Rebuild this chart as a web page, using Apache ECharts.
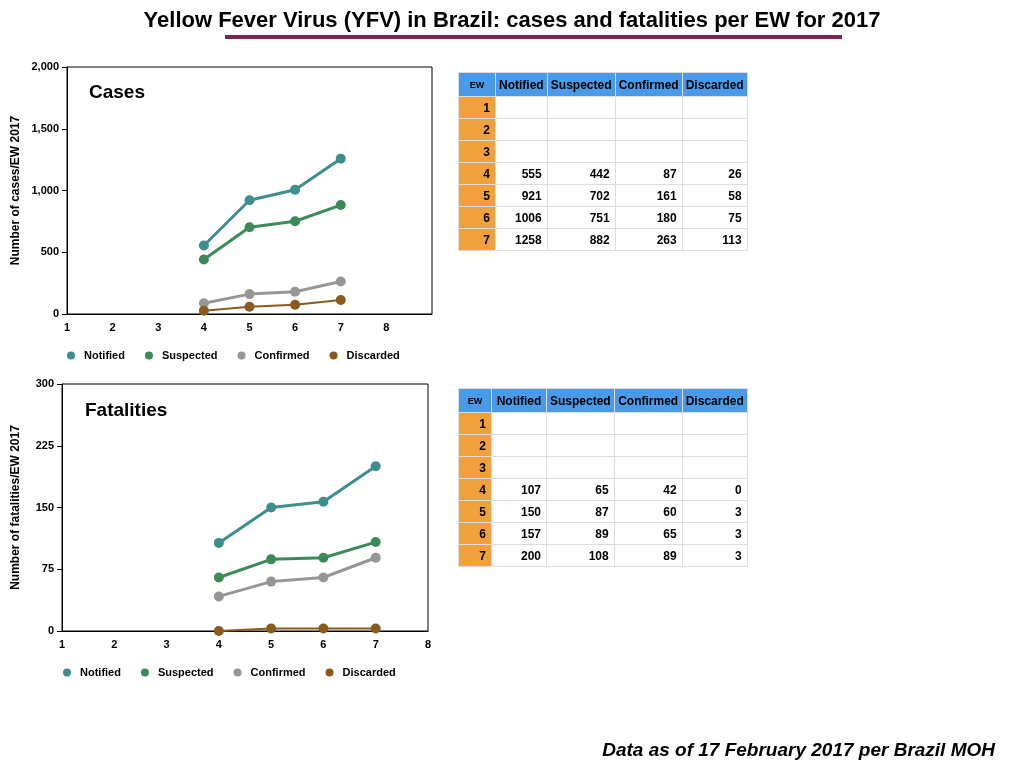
<!DOCTYPE html>
<html><head><meta charset="utf-8">
<script src="https://cdn.jsdelivr.net/npm/echarts@6/dist/echarts.min.js"></script>
<style>
body{margin:0;width:1024px;height:768px;font-family:Helvetica,Arial,"Liberation Sans",sans-serif;background:#fff;position:relative;overflow:hidden}
#chart{position:absolute;left:0;top:0;width:1024px;height:768px}
table{position:absolute;border-collapse:collapse;font-size:12px;font-weight:bold;font-family:"Liberation Sans",Arial,sans-serif}
td,th{border:1px solid #ddd;padding:0 5px;text-align:right;height:21px}
th{background:#4a9ae8;color:#000;font-weight:bold;height:23px;text-align:center;padding:0 3px}
th.ew{font-size:9px}
td.ew{background:#f0a03c}
</style></head><body>
<div id="chart"></div>
<table id="t1" style="left:458px;top:72px"></table>
<table id="t2" style="left:458px;top:388px"></table>
<script>
var ew = [1, 2, 3, 4, 5, 6, 7];
var seriesNames = ['Notified', 'Suspected', 'Confirmed', 'Discarded'];
var colors = ['#3e8e8e', '#3b8a57', '#969696', '#8b5a1f'];
var casesNotified = [null, null, null, 555, 921, 1006, 1258];
var casesSuspected = [null, null, null, 442, 702, 751, 882];
var casesConfirmed = [null, null, null, 87, 161, 180, 263];
var casesDiscarded = [null, null, null, 26, 58, 75, 113];
var fatNotified = [null, null, null, 107, 150, 157, 200];
var fatSuspected = [null, null, null, 65, 87, 89, 108];
var fatConfirmed = [null, null, null, 42, 60, 65, 89];
var fatDiscarded = [null, null, null, 0, 3, 3, 3];

var cases = [casesNotified, casesSuspected, casesConfirmed, casesDiscarded];
var fats = [fatNotified, fatSuspected, fatConfirmed, fatDiscarded];

function fillTable(id, data, widths) {
  var html = '<tr><th class="ew" style="width:' + widths[0] + 'px">EW</th>';
  seriesNames.forEach(function (n, i) { html += '<th style="width:' + widths[i + 1] + 'px">' + n + '</th>'; });
  html += '</tr>';
  ew.forEach(function (e, r) {
    html += '<tr><td class="ew">' + e + '</td>';
    data.forEach(function (s) { html += '<td>' + (s[r] == null ? '' : s[r]) + '</td>'; });
    html += '</tr>';
  });
  document.getElementById(id).innerHTML = html;
}
fillTable('t1', cases, [30, 43, 61, 59, 58]);
fillTable('t2', fats, [26, 48, 60, 61, 57]);

function pts(arr) { return ew.map(function (e, i) { return [e, arr[i]]; }).filter(function (p) { return p[1] != null; }); }

var series = [];
seriesNames.forEach(function (n, i) {
  series.push({ name: n, type: 'line', xAxisIndex: 0, yAxisIndex: 0, data: pts(cases[i]),
    symbol: 'circle', symbolSize: 10, lineStyle: { width: i === 3 ? 2 : 3, color: colors[i] }, itemStyle: { color: colors[i] } });
  series.push({ name: n, type: 'line', xAxisIndex: 1, yAxisIndex: 1, data: pts(fats[i]),
    symbol: 'circle', symbolSize: 10, lineStyle: { width: i === 3 ? 2 : 3, color: colors[i] }, itemStyle: { color: colors[i] } });
});

var axisTxt = { color: '#000', fontWeight: 'bold', fontSize: 11 };
var myChart = echarts.init(document.getElementById('chart'));
myChart.setOption({
  animation: false,
  textStyle: { fontFamily: 'Liberation Sans, Arial, sans-serif' },
  title: [
    { text: 'Yellow Fever Virus (YFV) in Brazil: cases and fatalities per EW for 2017', left: 'center', top: 5,
      textStyle: { fontSize: 22, fontWeight: 'bold', color: '#000' } },
    { text: 'Cases', left: 84, top: 78, textStyle: { fontSize: 19, fontWeight: 'bold', color: '#000' } },
    { text: 'Fatalities', left: 80, top: 396, textStyle: { fontSize: 19, fontWeight: 'bold', color: '#000' } },
    { text: 'Data as of 17 February 2017 per Brazil MOH', right: 24, top: 736,
      textStyle: { fontSize: 19, fontWeight: 'bold', fontStyle: 'italic', color: '#000' } }
  ],
  graphic: [{ type: 'rect', shape: { x: 225, y: 35, width: 617, height: 4 }, style: { fill: '#7d2452' } }],
  legend: [
    { data: seriesNames, left: 62, top: 345, itemGap: 20, itemWidth: 16, itemHeight: 8, icon: 'circle', textStyle: axisTxt },
    { data: seriesNames, left: 58, top: 662, itemGap: 20, itemWidth: 16, itemHeight: 8, icon: 'circle', textStyle: axisTxt }
  ],
  grid: [
    { left: 67, top: 67, width: 365, height: 247, show: true, borderColor: '#000', borderWidth: 1 },
    { left: 62, top: 384, width: 366, height: 247, show: true, borderColor: '#000', borderWidth: 1 }
  ],
  xAxis: [
    { type: 'value', gridIndex: 0, min: 1, max: 9, interval: 1, splitLine: { show: false },
      axisLine: { lineStyle: { color: '#000' } }, axisTick: { show: false },
      axisLabel: Object.assign({ formatter: function (v) { return v <= 8 ? v : ''; } }, axisTxt) },
    { type: 'value', gridIndex: 1, min: 1, max: 8, interval: 1, splitLine: { show: false },
      axisLine: { lineStyle: { color: '#000' } }, axisTick: { show: false }, axisLabel: axisTxt }
  ],
  yAxis: [
    { type: 'value', gridIndex: 0, min: 0, max: 2000, interval: 500, splitLine: { show: false },
      name: 'Number of cases/EW 2017', nameLocation: 'middle', nameGap: 45, nameRotate: 90,
      nameTextStyle: { fontWeight: 'bold', fontSize: 12, color: '#000' },
      axisLine: { show: true, lineStyle: { color: '#000' } }, axisLabel: axisTxt },
    { type: 'value', gridIndex: 1, min: 0, max: 300, interval: 75, splitLine: { show: false },
      name: 'Number of fatalities/EW 2017', nameLocation: 'middle', nameGap: 40, nameRotate: 90,
      nameTextStyle: { fontWeight: 'bold', fontSize: 12, color: '#000' },
      axisLine: { show: true, lineStyle: { color: '#000' } }, axisLabel: axisTxt }
  ],
  series: series
});
</script>
</body></html>
